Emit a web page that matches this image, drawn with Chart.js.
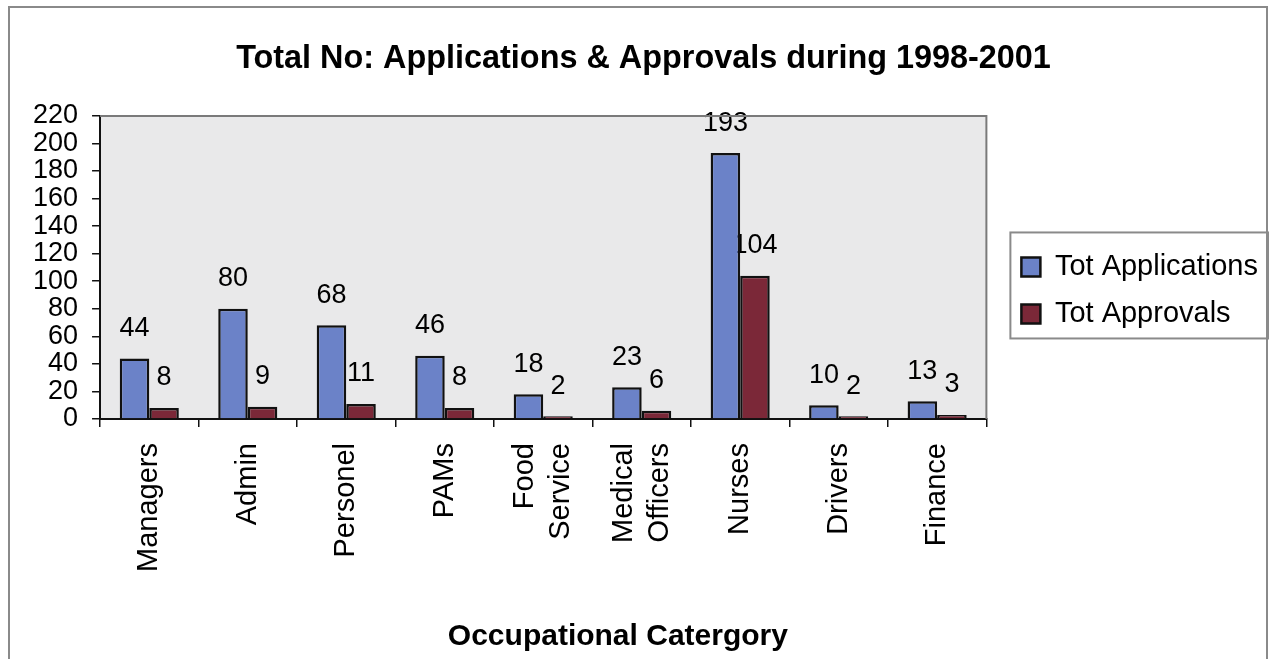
<!DOCTYPE html>
<html>
<head>
<meta charset="utf-8">
<title>Total No: Applications &amp; Approvals during 1998-2001</title>
<script src="https://cdn.jsdelivr.net/npm/chart.js@4.4.0/dist/chart.umd.min.js"></script>
<style>
  html, body { margin: 0; padding: 0; background: #fff; }
  #wrap { width: 1274px; height: 659px; }
</style>
</head>
<body>
<div id="wrap"><canvas id="chart" width="1274" height="659"></canvas></div>
<script>
// occupational categories (two-line labels as arrays)
const categories = ['Managers', 'Admin', 'Personel', 'PAMs', ['Food', 'Service'],
                    ['Medical', 'Officers'], 'Nurses', 'Drivers', 'Finance']
const applications = [44, 80, 68, 46, 18, 23, 193, 10, 13]
const approvals = [8, 9, 11, 8, 2, 6, 104, 2, 3]
const yMin = 0
const yMax = 220
const yStep = 20

const FONT = "'Liberation Sans', Arial, sans-serif"
const xLabelSize = 29
const xLabelLine = 36
const xTickLen = 8
const xTickPad = 16

// frame, plot background, value labels, x labels, axis title and legend box
const decorations = {
    id: 'decorations',
    beforeDraw(chart) {
        const {ctx, chartArea: a, width, height} = chart
        ctx.save()
        ctx.fillStyle = '#fff'
        ctx.fillRect(0, 0, width, height)
        // outer frame: left, top, right edges only
        ctx.strokeStyle = '#8a8a8a'
        ctx.lineWidth = 2
        ctx.beginPath()
        ctx.moveTo(9, height)
        ctx.lineTo(9, 7)
        ctx.lineTo(width - 7, 7)
        ctx.lineTo(width - 7, height)
        ctx.stroke()
        ctx.fillStyle = '#e9e9ea'
        ctx.fillRect(a.left, a.top, a.right - a.left, a.bottom - a.top)
        ctx.restore()
    },
    beforeDatasetsDraw(chart) {
        // value labels sit underneath the bars
        const {ctx} = chart
        ctx.save()
        ctx.font = '27px ' + FONT
        ctx.fillStyle = '#000'
        ctx.textAlign = 'center'
        ctx.textBaseline = 'middle'
        chart.data.datasets.forEach((ds, di) => {
            chart.getDatasetMeta(di).data.forEach((bar, i) => {
                ctx.fillText(String(ds.data[i]), bar.x, bar.y - 30)
            })
        })
        ctx.restore()
    },
    afterDatasetsDraw(chart) {
        const {ctx, chartArea: a} = chart
        ctx.save()
        ctx.strokeStyle = '#7a7a7a'
        ctx.lineWidth = 2
        ctx.beginPath()
        ctx.moveTo(a.left, a.top)
        ctx.lineTo(a.right, a.top)
        ctx.lineTo(a.right, a.bottom)
        ctx.stroke()
        ctx.restore()
    },
    afterDraw(chart) {
        const {ctx, width, height} = chart
        const xs = chart.scales.x
        ctx.save()
        // rotated category labels, multi-line ones centred on the tick
        ctx.font = xLabelSize + 'px ' + FONT
        ctx.fillStyle = '#000'
        ctx.textAlign = 'right'
        ctx.textBaseline = 'middle'
        categories.forEach((lab, i) => {
            const lines = Array.isArray(lab) ? lab : [lab]
            ctx.save()
            ctx.translate(xs.getPixelForTick(i), xs.top + xTickLen + xTickPad)
            ctx.rotate(-Math.PI / 2)
            lines.forEach((ln, j) => {
                ctx.fillText(ln, 0, (j - (lines.length - 1) / 2) * xLabelLine)
            })
            ctx.restore()
        })
        // axis title
        ctx.font = 'bold 30px ' + FONT
        ctx.textAlign = 'center'
        ctx.fillText('Occupational Catergory', width * 0.485, height - 22)
        // box round the legend
        const hb = chart.legend.legendHitBoxes
        if (hb && hb.length) {
            const last = hb[hb.length - 1]
            const x0 = hb[0].left - 11
            const y0 = hb[0].top - 20
            const x1 = Math.max(...hb.map(b => b.left + b.width)) + 10
            const y1 = last.top + last.height + 10
            ctx.strokeStyle = '#8a8a8a'
            ctx.lineWidth = 2
            ctx.strokeRect(x0, y0, x1 - x0, y1 - y0)
        }
        ctx.restore()
    }
}

new Chart(document.getElementById('chart'), {
    type: 'bar',
    data: {
        labels: categories,
        datasets: [
            {
                label: 'Tot Applications',
                data: applications,
                backgroundColor: '#6b82c8',
                borderColor: '#111',
                borderWidth: 2.5,
                categoryPercentage: 0.6,
                barPercentage: 1.0
            },
            {
                label: 'Tot Approvals',
                data: approvals,
                backgroundColor: '#7b2838',
                borderColor: '#111',
                borderWidth: 2.5,
                categoryPercentage: 0.6,
                barPercentage: 1.0
            }
        ]
    },
    options: {
        responsive: false,
        animation: false,
        devicePixelRatio: 1,
        layout: {padding: {left: 19, right: 6, top: 0, bottom: 71}},
        plugins: {
            title: {
                display: true,
                text: 'Total No: Applications & Approvals during 1998-2001',
                color: '#000',
                font: {family: FONT, size: 32.4, weight: 'bold'},
                padding: {top: 40, bottom: 37}
            },
            legend: {
                position: 'right',
                fullSize: false,
                title: {display: true, text: '', font: {size: 10}, padding: {top: 17, bottom: 17}},
                labels: {
                    color: '#000',
                    font: {family: FONT, size: 29},
                    boxWidth: 19,
                    boxHeight: 19,
                    padding: 18
                }
            },
            tooltip: {enabled: false}
        },
        scales: {
            x: {
                grid: {drawOnChartArea: false, drawTicks: true, tickLength: xTickLen, color: '#111', lineWidth: 1.5},
                border: {color: '#111', width: 2},
                ticks: {
                    color: 'transparent',
                    font: {family: FONT, size: xLabelSize},
                    minRotation: 90,
                    maxRotation: 90,
                    autoSkip: false,
                    padding: xTickPad
                }
            },
            y: {
                min: yMin,
                max: yMax,
                grid: {drawOnChartArea: false, drawTicks: true, tickLength: 8, color: '#111', lineWidth: 1.5},
                border: {color: '#111', width: 2},
                ticks: {
                    stepSize: yStep,
                    autoSkip: false,
                    color: '#000',
                    font: {family: FONT, size: 27},
                    padding: 14
                }
            },
            // empty spacer between plot and legend
            gap: {
                type: 'linear',
                position: 'right',
                display: false,
                afterFit(s) { s.width = 17 }
            }
        }
    },
    plugins: [decorations]
})
</script>
</body>
</html>
